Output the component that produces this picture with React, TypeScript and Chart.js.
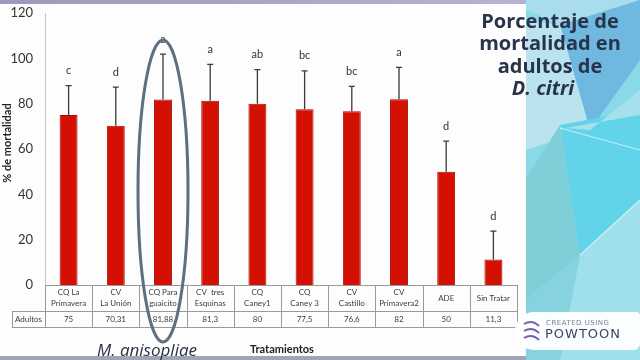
import React, { useEffect, useRef } from "react";
import { Chart, registerables } from "chart.js";

Chart.register(...registerables);

const categories: string[][] = [
  ["CQ La", "Primavera"],
  ["CV", "La Unión"],
  ["CQ Para", "guaicito"],
  ["CV  tres", "Esquinas"],
  ["CQ", "Caney1"],
  ["CQ", "Caney 3"],
  ["CV", "Castillo"],
  ["CV", "Primavera2"],
  ["ADE"],
  ["Sin Tratar"],
];
const mortalidad = [75, 70.31, 81.88, 81.3, 80, 77.5, 76.6, 82, 50, 11.3];
const tableLabels = ["75", "70,31", "81,88", "81,3", "80", "77,5", "76,6", "82", "50", "11,3"];
const errores = [13, 17, 20, 16, 15, 17, 11, 14, 13.5, 12.5];
const letras = ["c", "d", "a", "a", "ab", "bc", "bc", "a", "d", "d"];
const yTicks = { min: 0, max: 120, step: 20 };
const titleLines = ["Porcentaje de", "mortalidad en", "adultos de"];
const titleItalic = "D. citri";
const highlightIndex = 2;

const FONT = "Lato, 'Open Sans', sans-serif";

const decorPlugin = {
  id: "decor",
  beforeDraw(chart: any) {
    const ctx = chart.ctx as CanvasRenderingContext2D;
    const W = chart.width, H = chart.height;
    ctx.save();
    ctx.fillStyle = "#8ad9e8";
    ctx.fillRect(0, 0, W, H);
    const polys: [string, number[][]][] = [
      ["#a9dcec", [[505, 0], [640, 0], [640, 40], [560, 25]]],
      ["#6fb8e0", [[560, 25], [640, 0], [640, 60], [590, 130]]],
      ["#b9e3ef", [[525, 20], [560, 25], [590, 130], [525, 150]]],
      ["#62d4ea", [[560, 125], [640, 110], [640, 200], [580, 255]]],
      ["#a6e0ec", [[590, 130], [640, 90], [640, 115], [565, 128]]],
      ["#7fcfd8", [[525, 180], [560, 125], [580, 255], [525, 300]]],
      ["#9fe0ea", [[580, 255], [640, 200], [640, 360], [560, 360]]],
      ["#86d3df", [[525, 300], [580, 255], [560, 360], [525, 360]]],
    ];
    for (const [c, pts] of polys) {
      ctx.fillStyle = c;
      ctx.beginPath();
      pts.forEach((p, i) => (i ? ctx.lineTo(p[0], p[1]) : ctx.moveTo(p[0], p[1])));
      ctx.closePath();
      ctx.fill();
    }
    ctx.strokeStyle = "rgba(255,255,255,0.6)";
    ctx.lineWidth = 1.2;
    ctx.beginPath();
    ctx.moveTo(560, 128); ctx.lineTo(640, 150);
    ctx.moveTo(580, 255); ctx.lineTo(640, 200);
    ctx.stroke();
    ctx.fillStyle = "#fdfdfe";
    ctx.fillRect(0, 4, 526, 352);
    const g = ctx.createLinearGradient(0, 0, 640, 0);
    g.addColorStop(0, "#9d98bd");
    g.addColorStop(0.8, "#b7b2d0");
    g.addColorStop(1, "#7fb0de");
    ctx.fillStyle = g;
    ctx.fillRect(0, 0, 526, 4);
    ctx.fillStyle = "#9ea6b6";
    ctx.fillRect(0, 356, 526, 4);
    ctx.restore();
  },
  afterDatasetsDraw(chart: any) {
    const ctx = chart.ctx as CanvasRenderingContext2D;
    const x = chart.scales.x;
    const y = chart.scales.y;
    const area = chart.chartArea;
    const meta = chart.getDatasetMeta(0);
    ctx.save();
    ctx.strokeStyle = "#c8c8c8";
    ctx.lineWidth = 1;
    ctx.beginPath();
    ctx.moveTo(area.left + 0.5, area.top);
    ctx.lineTo(area.left + 0.5, area.bottom);
    ctx.stroke();
    ctx.strokeStyle = "#3a3a3a";
    ctx.lineWidth = 1.3;
    meta.data.forEach((bar: any, i: number) => {
      const cx = bar.x;
      const top = y.getPixelForValue(mortalidad[i] + errores[i]);
      const base = y.getPixelForValue(mortalidad[i]);
      ctx.beginPath();
      ctx.moveTo(cx, base);
      ctx.lineTo(cx, top);
      ctx.moveTo(cx - 3, top);
      ctx.lineTo(cx + 3, top);
      ctx.stroke();
      ctx.fillStyle = "#333";
      ctx.font = `11px ${FONT}`;
      ctx.textAlign = "center";
      ctx.textBaseline = "middle";
      ctx.fillText(letras[i], cx, top - 15);
    });
    const n = categories.length;
    const step = (area.right - area.left) / n;
    const row1 = area.bottom + 26;
    const row2 = row1 + 16;
    const tableLeft = 12;
    ctx.strokeStyle = "#9a9a9a";
    ctx.lineWidth = 1;
    ctx.beginPath();
    ctx.moveTo(area.left, area.bottom + 0.5);
    ctx.lineTo(area.right, area.bottom + 0.5);
    ctx.moveTo(tableLeft, row1 + 0.5);
    ctx.lineTo(area.right, row1 + 0.5);
    ctx.moveTo(tableLeft, row2 + 0.5);
    ctx.lineTo(area.right, row2 + 0.5);
    ctx.moveTo(tableLeft + 0.5, row1);
    ctx.lineTo(tableLeft + 0.5, row2);
    for (let k = 0; k <= n; k++) {
      const xx = Math.round(area.left + k * step) + 0.5;
      ctx.moveTo(xx, area.bottom);
      ctx.lineTo(xx, row2);
    }
    ctx.stroke();
    ctx.fillStyle = "#3c3c3c";
    ctx.font = `8px ${FONT}`;
    ctx.textAlign = "center";
    ctx.textBaseline = "middle";
    categories.forEach((lines, i) => {
      const cx = x.getPixelForValue(i);
      if (lines.length === 1) {
        ctx.fillText(lines[0], cx, area.bottom + 13);
      } else {
        ctx.fillText(lines[0], cx, area.bottom + 7.5);
        ctx.fillText(lines[1], cx, area.bottom + 18.5);
      }
      ctx.fillText(tableLabels[i], cx, row1 + 8);
    });
    ctx.fillText("Adultos", (tableLeft + area.left) / 2, row1 + 8);
    ctx.save();
    ctx.translate(7, 143);
    ctx.rotate(-Math.PI / 2);
    ctx.font = `bold 11px ${FONT}`;
    ctx.fillStyle = "#222";
    ctx.fillText("% de mortalidad", 0, 0);
    ctx.restore();
    ctx.fillStyle = "#2b3140";
    ctx.font = `italic 17px 'Open Sans', sans-serif`;
    ctx.fillText("M. anisopliae", 147, 351);
    ctx.fillStyle = "#222";
    ctx.font = `bold 11px ${FONT}`;
    ctx.fillText("Tratamientos", 282, 349);
    const hx = x.getPixelForValue(highlightIndex);
    ctx.strokeStyle = "#5d6f80";
    ctx.lineWidth = 3;
    ctx.beginPath();
    ctx.ellipse(hx, 191, 25, 151, 0, 0, Math.PI * 2);
    ctx.stroke();
    ctx.fillStyle = "#29334a";
    ctx.font = `bold 20px 'Open Sans', sans-serif`;
    titleLines.forEach((t, i) => ctx.fillText(t, 550, 22 + i * 22.5));
    ctx.font = `italic bold 20px 'Open Sans', sans-serif`;
    ctx.fillText(titleItalic, 543, 89);
    ctx.fillStyle = "rgba(255,255,255,0.96)";
    ctx.beginPath();
    ctx.moveTo(636, 312);
    ctx.lineTo(534, 312);
    ctx.arcTo(515, 312, 515, 331, 19);
    ctx.arcTo(515, 350, 534, 350, 19);
    ctx.lineTo(636, 350);
    ctx.arcTo(640, 350, 640, 331, 6);
    ctx.lineTo(640, 316);
    ctx.arcTo(640, 312, 636, 312, 4);
    ctx.closePath();
    ctx.fill();
    ctx.strokeStyle = "#7a5fb0";
    ctx.lineWidth = 2;
    ctx.beginPath();
    ctx.moveTo(524, 324); ctx.quadraticCurveTo(532, 319, 539, 326);
    ctx.moveTo(524, 331); ctx.quadraticCurveTo(532, 326, 539, 333);
    ctx.moveTo(524, 338); ctx.quadraticCurveTo(532, 333, 539, 340);
    ctx.stroke();
    ctx.textAlign = "left";
    ctx.fillStyle = "#7a7f90";
    ctx.font = `7px 'DejaVu Sans', sans-serif`;
    (ctx as any).letterSpacing = "0.5px";
    ctx.fillText("CREATED USING", 546, 323);
    ctx.fillStyle = "#3e4460";
    ctx.font = `13px 'DejaVu Sans', sans-serif`;
    (ctx as any).letterSpacing = "1px";
    ctx.fillText("POWTOON", 545, 335);
    (ctx as any).letterSpacing = "0px";
    ctx.restore();
  },
};

export default function App() {
  const ref = useRef<HTMLCanvasElement | null>(null);
  useEffect(() => {
    document.body.style.margin = "0";
    if (!ref.current) return;
    const chart = new Chart(ref.current, {
      type: "bar",
      data: {
        labels: categories.map((c) => c.join(" ")),
        datasets: [
          {
            data: mortalidad,
            backgroundColor: "#d41003",
            borderColor: "#a80c02",
            borderWidth: 1,
            categoryPercentage: 1,
            barPercentage: 0.38,
          },
        ],
      },
      options: {
        animation: false,
        responsive: false,
        layout: { padding: { left: 0, right: 123, top: 13, bottom: 75 } },
        plugins: { legend: { display: false }, tooltip: { enabled: false } },
        scales: {
          x: { display: false },
          y: {
            min: yTicks.min,
            max: yTicks.max,
            ticks: { stepSize: yTicks.step, padding: 4, color: "#333", font: { family: FONT, size: 13 } },
            grid: { display: false },
            border: { display: false },
            afterFit: (s: any) => {
              s.width = 45;
            },
          },
        },
      },
      plugins: [decorPlugin],
    });
    return () => chart.destroy();
  }, []);
  return (
    <div style={{ width: 640, height: 360 }}>
      <canvas ref={ref} width={640} height={360} style={{ display: "block" }} />
    </div>
  );
}
